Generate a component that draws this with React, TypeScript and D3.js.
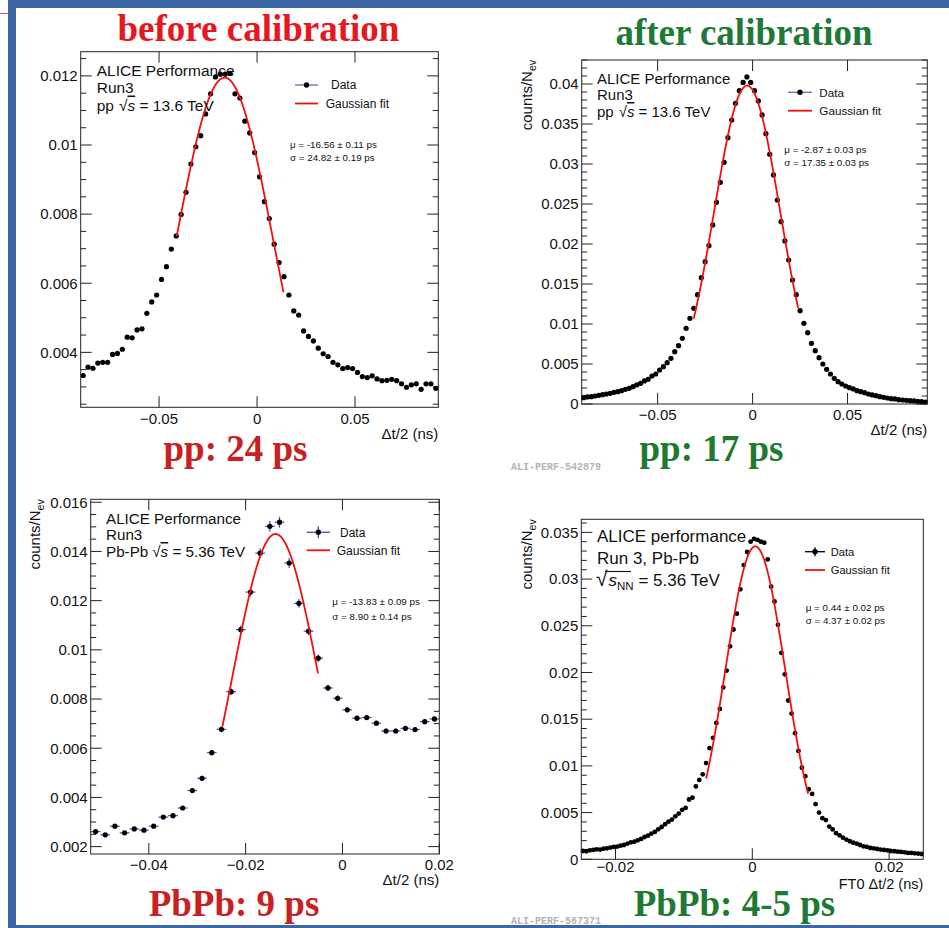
import React from "react";
import * as d3 from "d3";

const SANS = "'Liberation Sans', Arial, Helvetica, sans-serif";
const SERIF = "'Liberation Serif', 'Times New Roman', Times, serif";
const MONO = "'Liberation Mono', 'DejaVu Sans Mono', monospace";

// ---------------- DATA ----------------
// pp, before calibration
const ppBeforeBinStart = -0.09;
const ppBeforeBinWidth = 0.0025;
const ppBeforeValues = [
  0.00333, 0.00357, 0.00354, 0.00369, 0.00371, 0.00371, 0.00394, 0.00397, 0.00409, 0.00444,
  0.00442, 0.00465, 0.00468, 0.00513, 0.00546, 0.00566, 0.00611, 0.00648, 0.00699, 0.00737,
  0.00799, 0.00863, 0.00945, 0.00995, 0.01027, 0.0109, 0.01148, 0.01197, 0.01205, 0.01205,
  0.01207, 0.01148, 0.01136, 0.01069, 0.01035, 0.00978, 0.00908, 0.00836, 0.00787, 0.00713,
  0.0066, 0.00619, 0.00566, 0.0052, 0.00508, 0.00462, 0.00446, 0.00433, 0.00412, 0.00396,
  0.00388, 0.00371, 0.00364, 0.00353, 0.00356, 0.00353, 0.00342, 0.0033, 0.00327, 0.00332,
  0.00323, 0.00318, 0.00319, 0.00322, 0.00318, 0.00309, 0.00299, 0.00306, 0.00309, 0.00293,
  0.00309, 0.00309, 0.00296,
];
const ppBeforeFit = { amp: 0.01195, mu: -0.01656, sigma: 0.02482, from: -0.041, to: 0.0135 };
const ppBeforeXTicks = [-0.05, 0, 0.05];
const ppBeforeXLabels = ["\u22120.05", "0", "0.05"];
const ppBeforeYTicks = [0.004, 0.006, 0.008, 0.01, 0.012];
const ppBeforeYLabels = ["0.004", "0.006", "0.008", "0.01", "0.012"];

// pp, after calibration
const ppAfterBinStart = -0.09;
const ppAfterBinWidth = 0.002;
const ppAfterValues = [
  0.00079, 0.00088, 0.00092, 0.001, 0.00108, 0.00117, 0.00125, 0.00133, 0.00146, 0.00154,
  0.00167, 0.00183, 0.00196, 0.00217, 0.00238, 0.00258, 0.00288, 0.00308, 0.0035, 0.00375,
  0.00425, 0.00467, 0.00517, 0.00571, 0.00654, 0.00729, 0.00821, 0.00946, 0.01071, 0.01196,
  0.01367, 0.01579, 0.01779, 0.01979, 0.02238, 0.02521, 0.02771, 0.03021, 0.03329, 0.0355,
  0.03758, 0.03917, 0.0402, 0.04088, 0.0402, 0.03916, 0.03788, 0.03613, 0.03379, 0.03121,
  0.02863, 0.0255, 0.02279, 0.02038, 0.018, 0.0155, 0.01367, 0.01167, 0.01008, 0.00892,
  0.00758, 0.00667, 0.00579, 0.005, 0.00433, 0.00375, 0.00321, 0.00279, 0.0025, 0.00225,
  0.00204, 0.00188, 0.00167, 0.00154, 0.00142, 0.00125, 0.00113, 0.00104, 0.00092, 0.00083,
  0.00075, 0.00067, 0.00063, 0.00054, 0.0005, 0.00046, 0.00042, 0.00038, 0.00033, 0.00029,
  0.00025,
];
const ppAfterFit = { amp: 0.0398, mu: -0.00287, sigma: 0.01735, from: -0.031, to: 0.024 };
const ppAfterXTicks = [-0.05, 0, 0.05];
const ppAfterXLabels = ["\u22120.05", "0", "0.05"];
const ppAfterYTicks = [0, 0.005, 0.01, 0.015, 0.02, 0.025, 0.03, 0.035, 0.04];
const ppAfterYLabels = ["0", "0.005", "0.01", "0.015", "0.02", "0.025", "0.03", "0.035", "0.04"];

// Pb-Pb, before calibration
const pbBeforeBinStart = -0.052;
const pbBeforeBinWidth = 0.002;
const pbBeforeValues = [
  0.00261, 0.00248, 0.00283, 0.00256, 0.00272, 0.00267, 0.00283, 0.0032, 0.00326, 0.00357,
  0.00428, 0.00478, 0.00582, 0.00677, 0.0083, 0.01082, 0.01235, 0.01393, 0.01502, 0.01519,
  0.01353, 0.01189, 0.01076, 0.00966, 0.00845, 0.00803, 0.00756, 0.00722, 0.00725, 0.00702,
  0.0067, 0.0067, 0.00681, 0.00676, 0.00708, 0.00719,
];
const pbBeforeErrors = [
  0.00006, 0.00006, 0.00006, 0.00006, 0.00006, 0.00006, 0.00007, 0.00007, 0.00008, 0.00008,
  0.00009, 0.0001, 0.00011, 0.00012, 0.00014, 0.00017, 0.00019, 0.0002, 0.00022, 0.00022,
  0.0002, 0.00018, 0.00016, 0.00015, 0.00013, 0.00012, 0.00011, 0.00011, 0.00011, 0.0001,
  0.0001, 0.0001, 0.0001, 0.0001, 0.00011, 0.00011,
];
const pbBeforeFit = { amp: 0.01471, mu: -0.01383, sigma: 0.0089, from: -0.0248, to: -0.00505 };
const pbBeforeXTicks = [-0.04, -0.02, 0, 0.02];
const pbBeforeXLabels = ["\u22120.04", "\u22120.02", "0", "0.02"];
const pbBeforeYTicks = [0.002, 0.004, 0.006, 0.008, 0.01, 0.012, 0.014, 0.016];
const pbBeforeYLabels = ["0.002", "0.004", "0.006", "0.008", "0.01", "0.012", "0.014", "0.016"];

// Pb-Pb, after calibration
const pbAfterBinStart = -0.025;
const pbAfterBinWidth = 0.0005;
const pbAfterValues = [
  0.00089, 0.00086, 0.00096, 0.001, 0.00107, 0.00104, 0.00114, 0.00118, 0.00125, 0.00132,
  0.00136, 0.00146, 0.00153, 0.00168, 0.00182, 0.00189, 0.00203, 0.00218, 0.00239, 0.00253,
  0.00275, 0.00293, 0.00321, 0.00346, 0.00375, 0.00403, 0.00425, 0.0046, 0.00489, 0.0053,
  0.0055, 0.0064, 0.0066, 0.0078, 0.0085, 0.0091, 0.0103, 0.0119, 0.013, 0.0146,
  0.0161, 0.0184, 0.0202, 0.0228, 0.0246, 0.0263, 0.0289, 0.0315, 0.0329, 0.034,
  0.0343, 0.0342, 0.034, 0.0339, 0.0321, 0.0292, 0.0276, 0.0251, 0.0221, 0.0198,
  0.017, 0.0156, 0.0135, 0.0116, 0.0098, 0.0089, 0.0075, 0.007, 0.0059, 0.005,
  0.0044, 0.0042, 0.0035, 0.0032, 0.0028, 0.00257, 0.00232, 0.00211, 0.00193, 0.00178,
  0.00168, 0.00153, 0.00139, 0.00132, 0.00121, 0.00118, 0.00111, 0.00104, 0.001, 0.00096,
  0.00089, 0.00086, 0.00082, 0.00079, 0.00075, 0.00068, 0.00068, 0.00064, 0.00061, 0.00057,
];
const pbAfterFit = { amp: 0.0335, mu: 0.00044, sigma: 0.00437, from: -0.00675, to: 0.00817 };
const pbAfterXTicks = [-0.02, 0, 0.02];
const pbAfterXLabels = ["\u22120.02", "0", "0.02"];
const pbAfterYTicks = [0, 0.005, 0.01, 0.015, 0.02, 0.025, 0.03, 0.035];
const pbAfterYLabels = ["0", "0.005", "0.01", "0.015", "0.02", "0.025", "0.03", "0.035"];

// ---------------- PANEL ----------------
function Panel(p: any) {
  const { x0, y0, x1, y1 } = p.frame;
  const x = d3.scaleLinear().domain(p.xDomain).range([x0, x1]);
  const y = d3.scaleLinear().domain(p.yDomain).range([y1, y0]);
  const step = p.yMinor;
  const minor = d3
    .range(Math.ceil(p.yDomain[0] / step - 1e-6), Math.floor(p.yDomain[1] / step + 1e-6) + 1)
    .map((i: number) => i * step)
    .filter((v: number) => !p.yTicks.some((t: number) => Math.abs(t - v) < step * 0.01));
  const fit = p.fit;
  const gauss = (t: number) => fit.amp * Math.exp(-0.5 * ((t - fit.mu) / fit.sigma) ** 2);
  const ts = d3.range(0, 241).map((i: number) => fit.from + ((fit.to - fit.from) * i) / 240);
  const path = d3
    .line<number>()
    .x((t) => x(t))
    .y((t) => y(gauss(t)))(ts);
  const tickCol = "#222";
  const lg = p.legend;
  return (
    <g fontFamily={SANS}>
      {p.yTicks.map((t: number, i: number) => (
        <g key={"yt" + i}>
          <line x1={x0} x2={x0 + 11} y1={y(t)} y2={y(t)} stroke={tickCol} strokeWidth={1} />
          {p.opposite && (
            <line x1={x1} x2={x1 - 11} y1={y(t)} y2={y(t)} stroke={tickCol} strokeWidth={1} />
          )}
          <text x={x0 - 3} y={y(t) + 5.3} textAnchor="end" fontSize={15} fill="#111">
            {p.yLabels[i]}
          </text>
        </g>
      ))}
      {minor.map((t: number, i: number) => (
        <g key={"ym" + i}>
          <line x1={x0} x2={x0 + 5.5} y1={y(t)} y2={y(t)} stroke={tickCol} strokeWidth={1} />
          {p.opposite && (
            <line x1={x1} x2={x1 - 5.5} y1={y(t)} y2={y(t)} stroke={tickCol} strokeWidth={1} />
          )}
        </g>
      ))}
      {p.xTicks.map((t: number, i: number) => (
        <g key={"xt" + i}>
          <line x1={x(t)} x2={x(t)} y1={y1} y2={y1 - 11} stroke={tickCol} strokeWidth={1} />
          {p.opposite && (
            <line x1={x(t)} x2={x(t)} y1={y0} y2={y0 + 11} stroke={tickCol} strokeWidth={1} />
          )}
          <text x={x(t)} y={p.xLabelY} textAnchor="middle" fontSize={15} fill="#111">
            {p.xLabels[i]}
          </text>
        </g>
      ))}
      <text x={x1} y={p.xTitleY} textAnchor="end" fontSize={p.xTitleFs || 15} fill="#111">
        {p.xTitle}
      </text>
      {p.yTitle && (
        <text
          transform={`translate(${p.yTitleX},${y0}) rotate(-90)`}
          textAnchor="end"
          fontSize={15}
          fill="#111"
        >
          counts/N
          <tspan fontSize={10.5} dy={4}>
            ev
          </tspan>
        </text>
      )}
      {p.values.map((v: number, i: number) => {
        const c = p.binStart + p.binWidth * (i + 0.5);
        const e = p.errors ? p.errors[i] : 0;
        return (
          <g key={"e" + i} stroke={p.errColor} strokeWidth={1.2}>
            <line x1={x(c - p.binWidth / 2)} x2={x(c + p.binWidth / 2)} y1={y(v)} y2={y(v)} />
            {e > 0 && <line x1={x(c)} x2={x(c)} y1={y(v - e)} y2={y(v + e)} />}
          </g>
        );
      })}
      {p.values.map((v: number, i: number) => {
        const c = p.binStart + p.binWidth * (i + 0.5);
        return <circle key={"m" + i} cx={x(c)} cy={y(v)} r={p.r} fill="#000" />;
      })}
      <path d={path || ""} fill="none" stroke="#f01010" strokeWidth={1.8} />
      <rect x={x0} y={y0} width={x1 - x0} height={y1 - y0} fill="none" stroke={tickCol} strokeWidth={1} />
      <line x1={lg.lx0} x2={lg.lx1} y1={lg.dataY} y2={lg.dataY} stroke={lg.color} strokeWidth={1.3} />
      {lg.vbar > 0 && (
        <line
          x1={(lg.lx0 + lg.lx1) / 2}
          x2={(lg.lx0 + lg.lx1) / 2}
          y1={lg.dataY - lg.vbar}
          y2={lg.dataY + lg.vbar}
          stroke={lg.color}
          strokeWidth={1.3}
        />
      )}
      <circle cx={(lg.lx0 + lg.lx1) / 2} cy={lg.dataY} r={2.7} fill="#000" />
      <text x={lg.dataTextX} y={lg.dataY + 4.2} fontSize={lg.fs} fill="#111">
        Data
      </text>
      <line x1={lg.lx0} x2={lg.lx1} y1={lg.fitY} y2={lg.fitY} stroke="#f01010" strokeWidth={1.8} />
      <text x={lg.fitTextX} y={lg.fitY + 4.2} fontSize={lg.fs} fill="#111">
        Gaussian fit
      </text>
      <text x={p.params.x} y={p.params.y1 + 3.5} fontSize={9.8} fill="#111">
        {p.params.mu}
      </text>
      <text x={p.params.x} y={p.params.y2 + 3.5} fontSize={9.8} fill="#111">
        {p.params.sigma}
      </text>
      {p.children}
    </g>
  );
}

export default function App() {
  const blue = "#3a66a6";
  return (
    <svg
      width={949}
      height={928}
      viewBox="0 0 949 928"
      style={{ position: "absolute", left: 0, top: 0, background: "#fff" }}
    >
      <rect x={0} y={0} width={949} height={928} fill="#fff" />

      <Panel
        frame={{ x0: 80.7, y0: 51.7, x1: 438.3, y1: 407.3 }}
        xDomain={[-0.09, 0.0925]}
        yDomain={[0.00241, 0.0127]}
        xTicks={ppBeforeXTicks}
        xLabels={ppBeforeXLabels}
        yTicks={ppBeforeYTicks}
        yLabels={ppBeforeYLabels}
        yMinor={0.0005}
        opposite={true}
        values={ppBeforeValues}
        binStart={ppBeforeBinStart}
        binWidth={ppBeforeBinWidth}
        errColor="#6a6ab0"
        r={2.6}
        fit={ppBeforeFit}
        xTitle="Δt/2 (ns)"
        xTitleY={439}
        xLabelY={423.5}
        legend={{ lx0: 295, lx1: 318, dataY: 85, fitY: 103.5, dataTextX: 331, fitTextX: 325.7, color: "#6a6ab0", fs: 12, vbar: 0 }}
        params={{ x: 290, y1: 144, y2: 157.5, mu: "μ = -16.56 ± 0.11 ps", sigma: "σ = 24.82 ± 0.19 ps" }}
      >
        <g fontSize={15.5} fill="#111">
          <text x={96.7} y={76}>ALICE Performance</text>
          <text x={96.7} y={93}>Run3</text>
          <text x={96.7} y={110.5}>
            pp
            <tspan dx={5}>√</tspan>
            <tspan fontStyle="italic" textDecoration="overline">s</tspan> = 13.6 TeV
          </text>
        </g>
      </Panel>

      <Panel
        frame={{ x0: 581.7, y0: 60, x1: 927.3, y1: 404 }}
        xDomain={[-0.09, 0.092]}
        yDomain={[0, 0.043]}
        xTicks={ppAfterXTicks}
        xLabels={ppAfterXLabels}
        yTicks={ppAfterYTicks}
        yLabels={ppAfterYLabels}
        yMinor={0.001}
        opposite={true}
        values={ppAfterValues}
        binStart={ppAfterBinStart}
        binWidth={ppAfterBinWidth}
        errColor="#6a6ab0"
        r={2.6}
        fit={ppAfterFit}
        xTitle="Δt/2 (ns)"
        xTitleY={434.5}
        xLabelY={420}
        yTitle={true}
        yTitleX={532}
        legend={{ lx0: 788, lx1: 812, dataY: 92.3, fitY: 110.7, dataTextX: 819.3, fitTextX: 819.3, color: "#6a6ab0", fs: 11.7, vbar: 0 }}
        params={{ x: 784.3, y1: 149.3, y2: 162.3, mu: "μ = -2.87 ± 0.03 ps", sigma: "σ = 17.35 ± 0.03 ps" }}
      >
        <g fontSize={15} fill="#111">
          <text x={597} y={83.5}>ALICE Performance</text>
          <text x={597} y={100}>Run3</text>
          <text x={597} y={117}>
            pp
            <tspan dx={5}>√</tspan>
            <tspan fontStyle="italic" textDecoration="overline">s</tspan> = 13.6 TeV
          </text>
        </g>
      </Panel>

      <Panel
        frame={{ x0: 90.7, y0: 499.3, x1: 439.3, y1: 854 }}
        xDomain={[-0.052, 0.02]}
        yDomain={[0.0017, 0.01612]}
        xTicks={pbBeforeXTicks}
        xLabels={pbBeforeXLabels}
        yTicks={pbBeforeYTicks}
        yLabels={pbBeforeYLabels}
        yMinor={0.0005}
        opposite={true}
        values={pbBeforeValues}
        errors={pbBeforeErrors}
        binStart={pbBeforeBinStart}
        binWidth={pbBeforeBinWidth}
        errColor="#4a4ab8"
        r={2.6}
        fit={pbBeforeFit}
        xTitle="Δt/2 (ns)"
        xTitleY={885}
        xLabelY={869.5}
        yTitle={true}
        yTitleX={40}
        legend={{ lx0: 306.7, lx1: 330, dataY: 532.3, fitY: 550.3, dataTextX: 340, fitTextX: 336.7, color: "#4a4ab8", fs: 12, vbar: 6 }}
        params={{ x: 332.3, y1: 601, y2: 616.7, mu: "μ = -13.83 ± 0.09 ps", sigma: "σ = 8.90 ± 0.14 ps" }}
      >
        <g fontSize={15.2} fill="#111">
          <text x={106} y={524}>ALICE Performance</text>
          <text x={106} y={540}>Run3</text>
          <text x={106} y={557}>
            Pb-Pb
            <tspan dx={4}>√</tspan>
            <tspan fontStyle="italic" textDecoration="overline">s</tspan> = 5.36 TeV
          </text>
        </g>
      </Panel>

      <Panel
        frame={{ x0: 581.3, y0: 519.3, x1: 923.3, y1: 859.3 }}
        xDomain={[-0.025, 0.025]}
        yDomain={[0, 0.0364]}
        xTicks={pbAfterXTicks}
        xLabels={pbAfterXLabels}
        yTicks={pbAfterYTicks}
        yLabels={pbAfterYLabels}
        yMinor={0.001}
        opposite={false}
        values={pbAfterValues}
        binStart={pbAfterBinStart}
        binWidth={pbAfterBinWidth}
        errColor="#000"
        r={2.4}
        fit={pbAfterFit}
        xTitle="FT0 Δt/2 (ns)"
        xTitleY={888.5}
        xTitleFs={14.5}
        xLabelY={872}
        yTitle={true}
        yTitleX={532}
        legend={{ lx0: 805, lx1: 825, dataY: 551.7, fitY: 570, dataTextX: 830.7, fitTextX: 830.7, color: "#000", fs: 11.2, vbar: 4.5 }}
        params={{ x: 805.7, y1: 607.3, y2: 620.3, mu: "μ = 0.44 ± 0.02 ps", sigma: "σ = 4.37 ± 0.02 ps" }}
      >
        <g fontSize={17} fill="#111">
          <text x={597} y={542}>ALICE performance</text>
          <text x={597} y={564}>Run 3, Pb-Pb</text>
          <text x={596} y={586}>
            <tspan fontSize={21}>√</tspan>
            <tspan fontStyle="italic" dx={1}>s</tspan>
            <tspan fontSize={11.5} dy={4}>NN</tspan>
            <tspan dy={-4}> = 5.36 TeV</tspan>
          </text>
          <line x1={605} x2={631} y1={571.5} y2={571.5} stroke="#111" strokeWidth={1.1} />
        </g>
      </Panel>

      <g fontFamily={SERIF} fontWeight="bold" fontSize={37} textAnchor="middle">
        <text x={258.5} y={41} fill="#e8161d">before calibration</text>
        <text x={744} y={45} fill="#1e7a36">after calibration</text>
        <text x={235.5} y={461} fill="#c8211f">pp: 24 ps</text>
        <text x={711.5} y={461} fill="#1e7a30">pp: 17 ps</text>
        <text x={234} y={916} fill="#c8211f">PbPb: 9 ps</text>
        <text x={734.5} y={916} fill="#1e7a30">PbPb: 4-5 ps</text>
      </g>
      <g fontFamily={MONO} fontWeight="bold" fontSize={10} fill="#b4b4b4">
        <text x={511} y={470}>ALI-PERF-542879</text>
        <text x={511} y={923.5}>ALI-PERF-567371</text>
      </g>

      <line x1={0} x2={8} y1={13.5} y2={13.5} stroke="#e05050" strokeWidth={1} />
      <rect x={8} y={0} width={941} height={8} fill={blue} />
      <rect x={8} y={0} width={8} height={928} fill={blue} />
      <rect x={8} y={925} width={941} height={3} fill={blue} />
    </svg>
  );
}
